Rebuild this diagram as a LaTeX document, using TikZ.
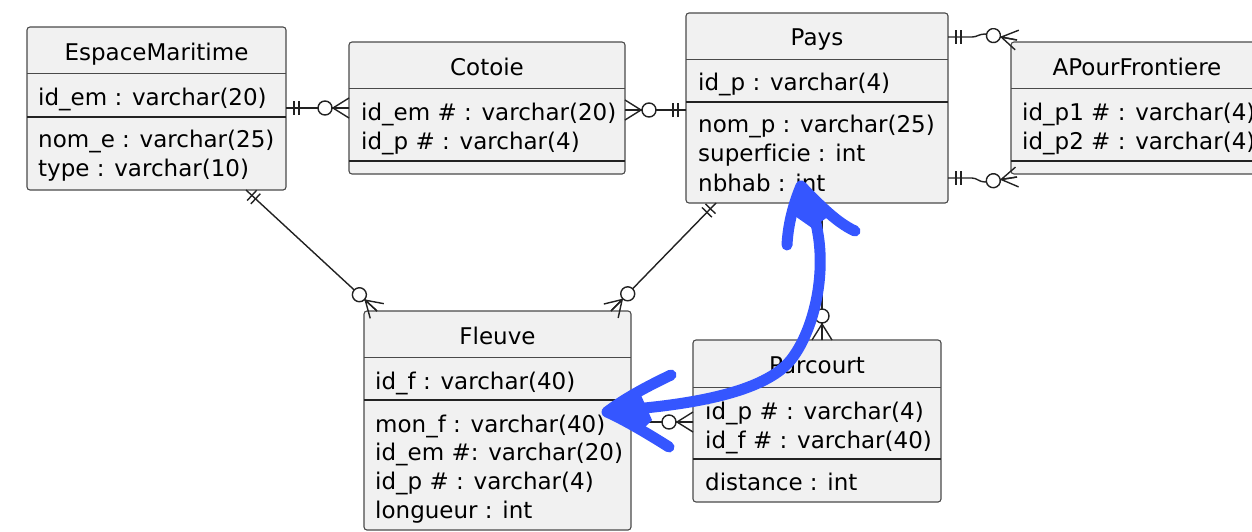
\documentclass[tikz,border=0pt]{standalone}
\usepackage{fontspec}
\setmainfont[Ligatures=NoCommon]{DejaVu Sans}
\usetikzlibrary{calc}

\definecolor{boxfill}{HTML}{F1F1F1}
\definecolor{boxline}{HTML}{4A4A4A}
\definecolor{linecol}{HTML}{222222}
\definecolor{penblue}{HTML}{3556FF}

\tikzset{
  entity/.style={draw=boxline, fill=boxfill, rounded corners=3pt, line width=1.1pt,
                 inner sep=0pt, outer sep=0pt, anchor=north west},
  title/.style={anchor=base, inner sep=0pt},
  attr/.style={anchor=base west, inner sep=0pt},
  septhin/.style={draw=boxline, line width=1pt},
  septhick/.style={draw=linecol, line width=1.6pt},
  rel/.style={draw=linecol, line width=1.4pt},
  fromA/.style={pos=0, sloped, allow upside down},
  toB/.style={pos=1, sloped, allow upside down},
  one/.pic={\draw[rel] (8,-7) -- (8,7) (13,-7) -- (13,7);},
  zmany/.pic={\draw[rel, fill=white] (-24,0) circle [radius=7pt];
              \draw[rel] (0,-10) -- (-16,0) -- (0,10) (0,0) -- (-16,0);},
  scribble/.style={draw=penblue, line width=11pt, line cap=round, line join=round}
}

\begin{document}
\begin{tikzpicture}[x=1pt, y=-1pt, font=\fontsize{23}{28}\selectfont]
  \useasboundingbox (0,0) rectangle (1252,531);

  % EspaceMaritime
  \node[entity, minimum width=259pt, minimum height=163pt] (em) at (27,27) {};
  \node[title] (emT) at (156.5,60) {EspaceMaritime};
  \draw[septhin] (em.west |- 0,73) -- (em.east |- 0,73);
  \node[attr] (em1) at (38,105) {id\_em : varchar(20)};
  \draw[septhick] (em.west |- 0,117) -- (em.east |- 0,117);
  \node[attr] (em2) at (38,147) {nom\_e : varchar(25)};
  \node[attr] (em3) at (38,176) {type : varchar(10)};

  % Cotoie
  \node[entity, minimum width=276pt, minimum height=132pt] (cot) at (349,42) {};
  \node[title] (cotT) at (487,75) {Cotoie};
  \draw[septhin] (cot.west |- 0,88) -- (cot.east |- 0,88);
  \node[attr] (cot1) at (361,120) {id\_em \# : varchar(20)};
  \node[attr] (cot2) at (361,149) {id\_p \# : varchar(4)};
  \draw[septhick] (cot.west |- 0,161) -- (cot.east |- 0,161);

  % Pays
  \node[entity, minimum width=262pt, minimum height=190pt] (pays) at (686,13) {};
  \node[title] (paysT) at (817,45) {Pays};
  \draw[septhin] (pays.west |- 0,59) -- (pays.east |- 0,59);
  \node[attr] (pays1) at (698,90) {id\_p : varchar(4)};
  \draw[septhick] (pays.west |- 0,102) -- (pays.east |- 0,102);
  \node[attr] (pays2) at (698,132) {nom\_p : varchar(25)};
  \node[attr] (pays3) at (698,161) {superficie : int};
  \node[attr] (pays4) at (698,191) {nbhab : int};

  % APourFrontiere
  \node[entity, minimum width=252pt, minimum height=132pt] (apf) at (1011,42) {};
  \node[title] (apfT) at (1137,75) {APourFrontiere};
  \draw[septhin] (apf.west |- 0,88) -- (apf.east |- 0,88);
  \node[attr] (apf1) at (1022,120) {id\_p1 \# : varchar(4)};
  \node[attr] (apf2) at (1022,149) {id\_p2 \# : varchar(4)};
  \draw[septhick] (apf.west |- 0,161) -- (apf.east |- 0,161);

  % Fleuve
  \node[entity, minimum width=267pt, minimum height=219pt] (fl) at (364,311) {};
  \node[title] (flT) at (497.5,344) {Fleuve};
  \draw[septhin] (fl.west |- 0,357) -- (fl.east |- 0,357);
  \node[attr] (fl1) at (375,389) {id\_f : varchar(40)};
  \draw[septhick] (fl.west |- 0,400) -- (fl.east |- 0,400);
  \node[attr] (fl2) at (375,432) {mon\_f : varchar(40)};
  \node[attr] (fl3) at (375,460) {id\_em \#: varchar(20)};
  \node[attr] (fl4) at (375,489) {id\_p \# : varchar(4)};
  \node[attr] (fl5) at (375,518) {longueur : int};

  % Parcourt
  \node[entity, minimum width=248pt, minimum height=162pt] (par) at (693,340) {};
  \node[title] (parT) at (817,373) {Parcourt};
  \draw[septhin] (par.west |- 0,387) -- (par.east |- 0,387);
  \node[attr] (par1) at (705,419) {id\_p \# : varchar(4)};
  \node[attr] (par2) at (705,448) {id\_f \# : varchar(40)};
  \draw[septhick] (par.west |- 0,459) -- (par.east |- 0,459);
  \node[attr] (par3) at (705,490) {distance : int};

  % relations
  \draw[rel] (em.east |- 0,108) -- pic[fromA]{one} pic[toB]{zmany} (cot.west |- 0,108);
  \draw[rel] (pays.west |- 0,110) -- pic[fromA]{one} pic[toB]{zmany} (cot.east |- 0,110);
  \draw[rel] (pays.east |- 0,37) -- pic[fromA]{one} ++(24,0)
    .. controls +(5,0) and +(-6,0) .. ++(13,-3)
    -- pic[toB]{zmany} ($(apf.north west)+(6,-2)$);
  \draw[rel] (pays.east |- 0,178) -- pic[fromA]{one} ++(24,0)
    .. controls +(5,0) and +(-6,0) .. ++(13,4)
    -- pic[toB]{zmany} ($(apf.south west)+(6,3)$);
  \draw[rel] (em.south -| 246,0) -- pic[fromA]{one} pic[toB]{zmany} (fl.north -| 377,0);
  \draw[rel] (pays.south -| 716,0) -- pic[fromA]{one} pic[toB]{zmany} (fl.north -| 611,0);
  \draw[rel] (pays.south -| 822,0) -- pic[fromA]{one} pic[toB]{zmany} (par.north -| 822,0);
  \draw[rel] (fl.east |- 0,422) -- pic[fromA]{one} pic[toB]{zmany} (par.west |- 0,422);

  % blue pen stroke
  \draw[scribble] (608,411) .. controls (700,405) and (770,390) .. (793,357)
    .. controls (820,320) and (834,240) .. (801,187);
  \draw[scribble] (787,245) .. controls (788,225) and (793,205) .. (801,186)
    .. controls (815,200) and (835,222) .. (855,231);
  \fill[penblue] (801,186) -- (792,214) -- (812,228) -- (832,214) -- cycle;
  \draw[scribble] (671,375) .. controls (650,385) and (625,398) .. (607,412)
    .. controls (625,420) and (650,435) .. (669,447);
  \fill[penblue] (607,412) -- (640,393) -- (652,420) -- (640,432) -- cycle;
\end{tikzpicture}
\end{document}
